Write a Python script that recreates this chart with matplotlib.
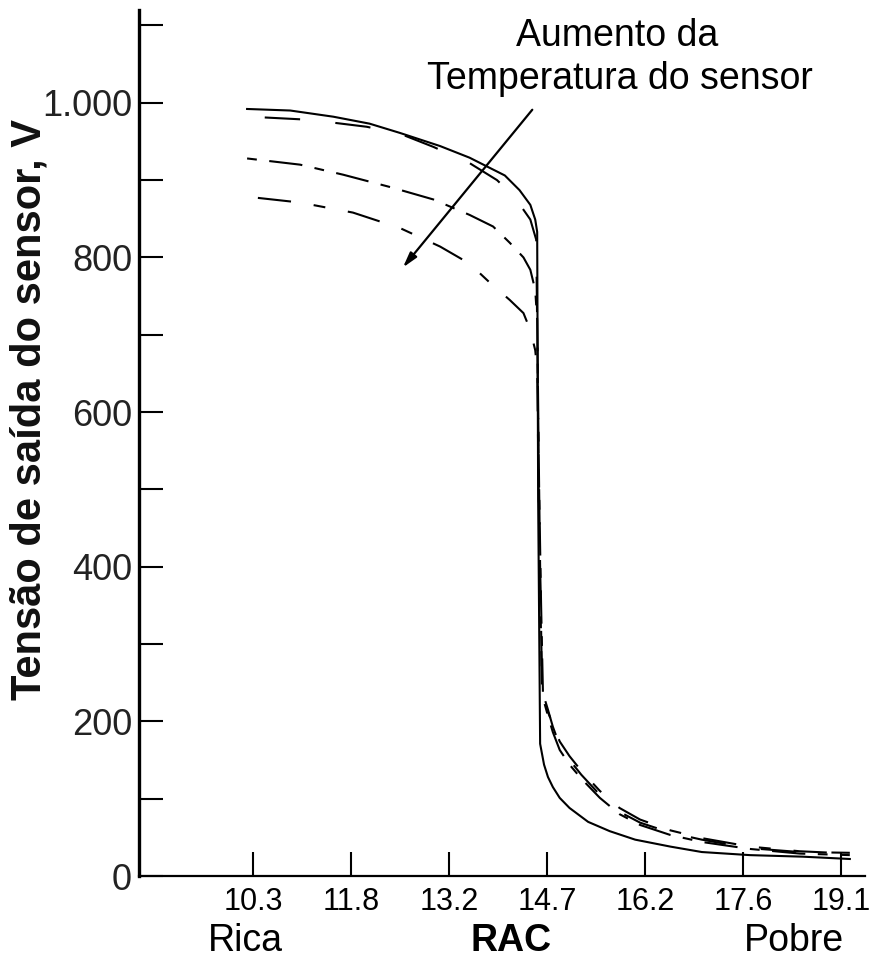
import matplotlib
matplotlib.use('Agg')
import matplotlib.pyplot as plt
from matplotlib import font_manager
from matplotlib.ticker import MultipleLocator

# eixo x: lambda (0.7 ... 1.3) rotulado com a relacao ar/combustivel
x_ticks = [0.7, 0.8, 0.9, 1.0, 1.1, 1.2, 1.3]
x_labels = ['10.3', '11.8', '13.2', '14.7', '16.2', '17.6', '19.1']
y_ticks = [0, 200, 400, 600, 800, 1000]
y_labels = ['0', '200', '400', '600', '800', '1.000']

# curva solida (sensor mais frio)
x_solid = [0.694, 0.738, 0.782, 0.819, 0.850, 0.891, 0.921, 0.957, 0.972, 0.983,
           0.988, 0.990, 0.991, 0.993, 0.997, 1.001, 1.006, 1.013, 1.023, 1.042,
           1.064, 1.090, 1.126, 1.158, 1.207, 1.261, 1.309]
v_solid = [992, 990, 982, 973, 961, 944, 929, 906, 887, 868,
           849, 833, 486, 171, 144, 128, 115, 101, 88, 70,
           58, 47, 38, 31, 27, 25, 22]

# tracejado longo
x_dash = [0.712, 0.758, 0.816, 0.850, 0.884, 0.921, 0.949, 0.967, 0.983, 0.989,
          0.991, 0.993, 0.995, 1.001, 1.006, 1.013, 1.023, 1.035, 1.054, 1.074,
          1.095, 1.126, 1.158, 1.207, 1.258, 1.309]
v_dash = [981, 978, 969, 960, 943, 922, 900, 878, 849, 823,
          600, 400, 240, 215, 193, 169, 150, 131, 105, 83,
          69, 56, 47, 36, 31, 30]

# traco-ponto
x_dashdot = [0.694, 0.748, 0.792, 0.840, 0.884, 0.921, 0.945, 0.962, 0.976, 0.983,
             0.988, 0.990, 0.992, 0.994, 0.996, 1.001, 1.006, 1.013, 1.023, 1.035,
             1.054, 1.074, 1.095, 1.126, 1.158, 1.207, 1.258, 1.309]
v_dashdot = [928, 920, 907, 891, 875, 855, 840, 819, 800, 784,
             758, 719, 500, 350, 230, 207, 186, 163, 144, 126,
             101, 80, 66, 53, 44, 35, 29, 27]

# traco longo-curto (sensor mais quente)
x_longshort = [0.705, 0.748, 0.802, 0.850, 0.891, 0.921, 0.942, 0.962, 0.976, 0.983,
               0.988, 0.990, 0.992, 0.995, 1.001, 1.006, 1.013, 1.023, 1.035, 1.054,
               1.074, 1.095, 1.126, 1.158, 1.207, 1.258, 1.309]
v_longshort = [877, 871, 858, 838, 814, 792, 767, 745, 728, 706,
               680, 655, 450, 235, 212, 196, 174, 155, 136, 110,
               88, 73, 59, 49, 38, 32, 29]

arrow_tail = (0.985, 991)
arrow_head = (0.853, 787)

names = {f.name for f in font_manager.fontManager.ttflist}
base_font = 'Liberation Sans' if 'Liberation Sans' in names else 'DejaVu Sans'
plt.rcParams['font.family'] = [base_font, 'DejaVu Sans']

fig = plt.figure(figsize=(8.7, 9.61), dpi=100)
ax = fig.add_axes([139/870, 1-876/961, (865-139)/870, (876-10)/961])

lw = 1.5
ax.plot(x_solid, v_solid, color='black', lw=lw, solid_joinstyle='round')
ax.plot(x_dash, v_dash, color='black', lw=lw, dashes=(17, 17))
ax.plot(x_dashdot, v_dashdot, color='black', lw=lw, dashes=(4.7, 6, 16, 6))
ax.plot(x_longshort, v_longshort, color='black', lw=lw, dashes=(16, 11, 5.7, 11))

ax.annotate('', xy=arrow_head, xytext=arrow_tail,
            arrowprops=dict(arrowstyle='-|>,head_length=0.9,head_width=0.25',
                            color='black', lw=1.6, shrinkA=0, shrinkB=0))

for s in ['top', 'right']:
    ax.spines[s].set_visible(False)
ax.spines['left'].set_linewidth(2.4)
ax.spines['bottom'].set_linewidth(1.6)

ax.set_xticks(x_ticks)
ax.set_xticklabels(x_labels, fontsize=22)
ax.set_yticks(y_ticks)
ax.set_yticklabels(y_labels, fontsize=26, color='#222222')
ax.yaxis.set_minor_locator(MultipleLocator(100))
ax.set_xlim(0.5837, 1.3245)
ax.set_ylim(0, 1120)
ax.tick_params(axis='both', which='both', direction='in', length=17, width=1.5)
ax.tick_params(axis='y', which='both', pad=5)
ax.tick_params(axis='x', pad=8)

fig.text(617/870, 1-46/961, 'Aumento da', ha='center', va='baseline', fontsize=27)
fig.text(620/870, 1-89/961, 'Temperatura do sensor', ha='center', va='baseline', fontsize=27)

fig.text(30/870, 1-410/961, 'Tensão de saída do sensor, V', rotation=90,
         ha='center', va='center', fontsize=30, fontweight='bold', color='#111111')

fig.text(245/870, 1-951/961, 'Rica', ha='center', va='baseline', fontsize=27)
fig.text(511/870, 1-951/961, 'RAC', ha='center', va='baseline', fontsize=27, fontweight='bold')
fig.text(794/870, 1-951/961, 'Pobre', ha='center', va='baseline', fontsize=27)

fig.savefig('out.png', dpi=100)
